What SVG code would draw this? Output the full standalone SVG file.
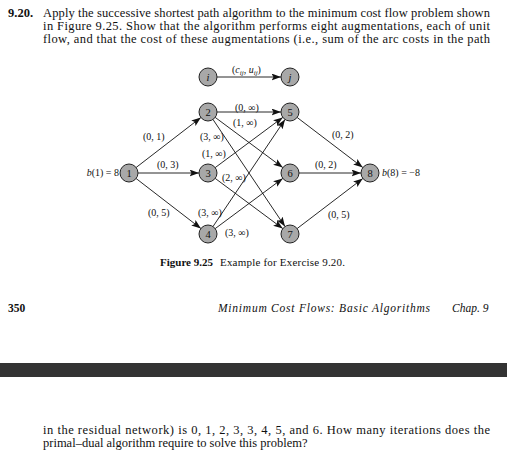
<svg xmlns="http://www.w3.org/2000/svg" width="507" height="450" viewBox="0 0 507 450">
<style>
text{font-family:"Liberation Serif","Times New Roman",serif;fill:#111}
.body{font-size:12.5px}
.lbl{font-size:10px}
.nd circle{fill:#a8a8a8;stroke:#222;stroke-width:1}
.nd text{font-size:10.5px;text-anchor:middle}
.edges line{stroke:#111;stroke-width:0.9;marker-end:url(#ah)}
</style>
<defs>
<marker id="ah" markerUnits="userSpaceOnUse" markerWidth="10" markerHeight="8" refX="9.5" refY="3.5" orient="auto">
<path d="M0,0 L9.5,3.5 L0,7 L2,3.5 z" fill="#111"/>
</marker>
</defs>
<rect width="507" height="450" fill="#fff"/>
<text class="body" x="8" y="17" font-weight="bold">9.20.</text>
<text class="body" x="43" y="17" textLength="447" lengthAdjust="spacing">Apply the successive shortest path algorithm to the minimum cost flow problem shown</text>
<text class="body" x="43" y="30" textLength="447" lengthAdjust="spacing">in Figure 9.25. Show that the algorithm performs eight augmentations, each of unit</text>
<text class="body" x="43" y="43" textLength="447" lengthAdjust="spacing">flow, and that the cost of these augmentations (i.e., sum of the arc costs in the path</text>
<g class="edges">
<line x1="217" y1="77" x2="281" y2="77"/>
<line x1="136.1" y1="167.5" x2="200.9" y2="117.5"/>
<line x1="138" y1="173" x2="199" y2="173"/>
<line x1="136.1" y1="178.5" x2="200.9" y2="228.5"/>
<line x1="217" y1="112" x2="281" y2="112"/>
<line x1="215.2" y1="117.4" x2="282.8" y2="167.6"/>
<line x1="213" y1="119.5" x2="285" y2="226.5"/>
<line x1="215.2" y1="167.6" x2="282.8" y2="117.4"/>
<line x1="215.2" y1="178.4" x2="282.8" y2="228.6"/>
<line x1="213" y1="226.5" x2="285" y2="119.5"/>
<line x1="215.2" y1="228.6" x2="282.8" y2="178.4"/>
<line x1="297.2" y1="117.5" x2="362.8" y2="167.5"/>
<line x1="299" y1="173" x2="361" y2="173"/>
<line x1="297.2" y1="228.5" x2="362.8" y2="178.5"/>
</g>
<g class="lbl">
<text class="lbl" x="232" y="73">(<tspan font-style="italic">c</tspan><tspan font-size="7" dy="2" font-style="italic">ij</tspan><tspan dy="-2">, </tspan><tspan font-style="italic">u</tspan><tspan font-size="7" dy="2" font-style="italic">ij</tspan><tspan dy="-2">)</tspan></text>
<text class="lbl" x="235" y="111">(0, ∞)</text>
<text class="lbl" x="233" y="126">(1, ∞)</text>
<text class="lbl" x="200" y="140">(3, ∞)</text>
<text class="lbl" x="143" y="140">(0, 1)</text>
<text class="lbl" x="202" y="157">(1, ∞)</text>
<text class="lbl" x="157" y="168">(0, 3)</text>
<text class="lbl" x="222" y="181">(2, ∞)</text>
<text class="lbl" x="148" y="216">(0, 5)</text>
<text class="lbl" x="198" y="216">(3, ∞)</text>
<text class="lbl" x="225" y="236">(3, ∞)</text>
<text class="lbl" x="332" y="138">(0, 2)</text>
<text class="lbl" x="315" y="168">(0, 2)</text>
<text class="lbl" x="328" y="218">(0, 5)</text>
<text class="lbl" x="119" y="176" text-anchor="end"><tspan font-style="italic">b</tspan>(1) = 8</text>
<text class="lbl" x="382" y="176"><tspan font-style="italic">b</tspan>(8) = −8</text>
</g>
<g id="node-i" class="nd"><circle cx="208" cy="77" r="9"/><text x="208" y="80.5" font-style="italic">i</text></g>
<g id="node-j" class="nd"><circle cx="290" cy="77" r="9"/><text x="290" y="80.5" font-style="italic">j</text></g>
<g id="node-1" class="nd"><circle cx="129" cy="173" r="9"/><text x="129" y="176.5">1</text></g>
<g id="node-2" class="nd"><circle cx="208" cy="112" r="9"/><text x="208" y="115.5">2</text></g>
<g id="node-3" class="nd"><circle cx="208" cy="173" r="9"/><text x="208" y="176.5">3</text></g>
<g id="node-4" class="nd"><circle cx="208" cy="234" r="9"/><text x="208" y="237.5">4</text></g>
<g id="node-5" class="nd"><circle cx="290" cy="112" r="9"/><text x="290" y="115.5">5</text></g>
<g id="node-6" class="nd"><circle cx="290" cy="173" r="9"/><text x="290" y="176.5">6</text></g>
<g id="node-7" class="nd"><circle cx="290" cy="234" r="9"/><text x="290" y="237.5">7</text></g>
<g id="node-8" class="nd"><circle cx="370" cy="173" r="9"/><text x="370" y="176.5">8</text></g>
<text x="160" y="266" font-size="11"><tspan font-weight="bold">Figure 9.25</tspan><tspan x="220" textLength="125" lengthAdjust="spacing">Example for Exercise 9.20.</tspan></text>
<text x="8" y="312" font-size="11.5" font-weight="bold">350</text>
<text x="218" y="312" font-size="11.5" font-style="italic" textLength="212" lengthAdjust="spacing">Minimum Cost Flows: Basic Algorithms</text>
<text x="452" y="312" font-size="11.5" font-style="italic">Chap. 9</text>
<rect x="0" y="363" width="507" height="14" fill="#333"/>
<text class="body" x="43" y="434" font-size="12" textLength="447" lengthAdjust="spacing">in the residual network) is 0, 1, 2, 3, 3, 4, 5, and 6. How many iterations does the</text>
<text class="body" x="43" y="446.5" font-size="12">primal–dual algorithm require to solve this problem?</text>
</svg>
